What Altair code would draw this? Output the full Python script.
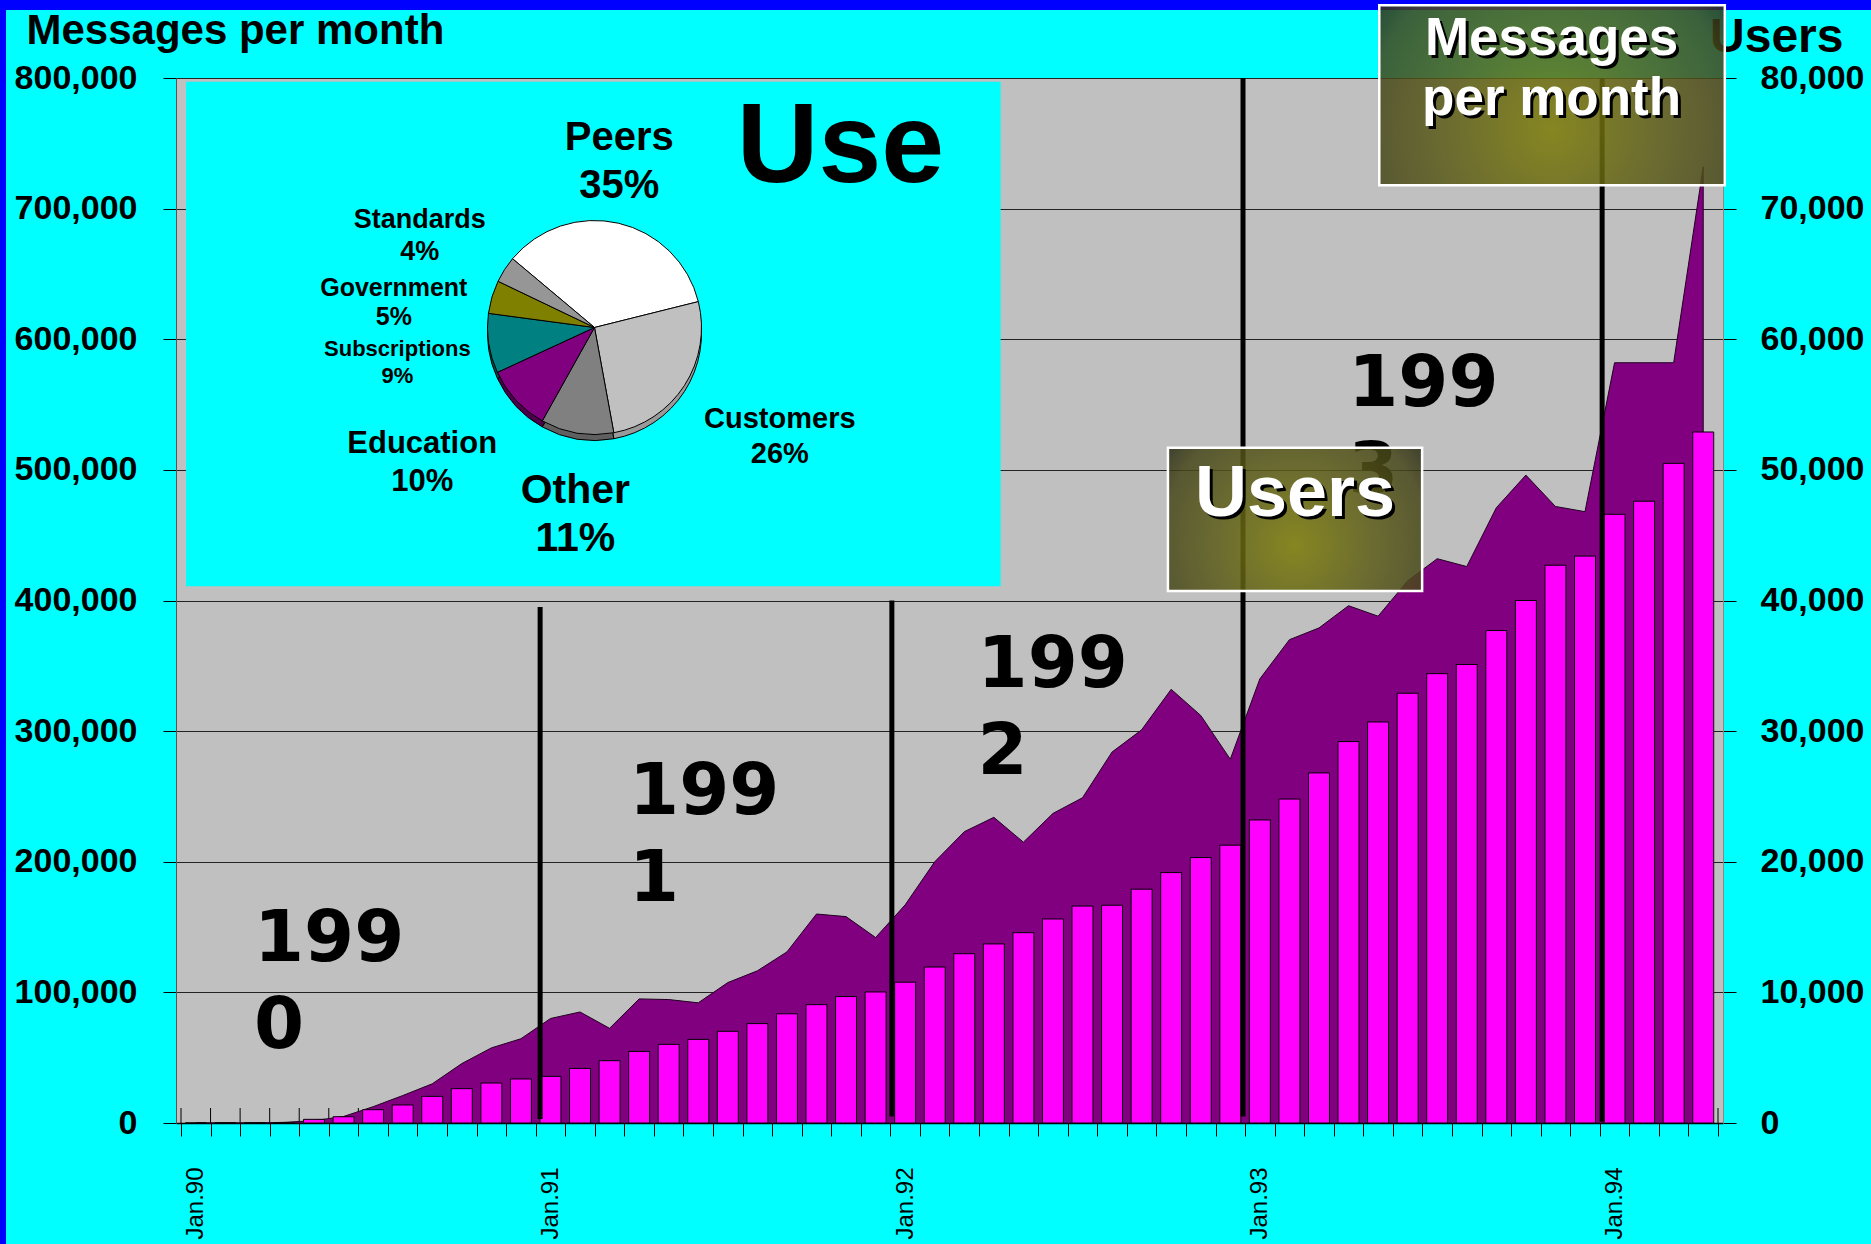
import math
import altair as alt
import pandas as pd

# ------------------------------------------------------------------ data
month_index = list(range(52))  # Jan.90 .. Apr.94
messages = [0, 0, 0, 500, 1800, 5000, 12500, 21000, 30000, 45500, 57500, 64500,
            80000, 85000, 72500, 95000, 94500, 92000, 107500, 116500, 131000, 160000, 158000, 142000,
            167000, 200000, 223000, 234000, 215000, 237000, 249000, 284000, 301000, 332000, 312000, 278500,
            340000, 370000, 379000, 396000, 388000, 415000, 432000, 426000, 471000, 496000, 472000, 468000,
            582000, 582000, 582000, 732000]
users = [0, 0, 0, 0, 280, 480, 1020, 1380, 2040, 2630, 3060, 3370,
         3570, 4180, 4770, 5480, 6020, 6400, 7020, 7610, 8360, 9060, 9680, 10030,
         10780, 11940, 12960, 13710, 14570, 15620, 16610, 16670, 17900, 19170, 20320, 21270,
         23200, 24800, 26800, 29200, 30700, 32900, 34400, 35100, 37700, 40000, 42700, 43400,
         46600, 47600, 50500, 52900]
x_tick_labels = ["Jan.90", "Jan.91", "Jan.92", "Jan.93", "Jan.94"]
x_tick_months = [0, 12, 24, 36, 48]
left_ticks = [0, 100000, 200000, 300000, 400000, 500000, 600000, 700000, 800000]
right_ticks = [0, 10000, 20000, 30000, 40000, 50000, 60000, 70000, 80000]

pie_categories = ["Peers", "Customers", "Other", "Education", "Subscriptions", "Government", "Standards"]
pie_shares = [35, 26, 11, 10, 9, 5, 4]
pie_colors = ["#FFFFFF", "#C0C0C0", "#808080", "#800080", "#008080", "#808000", "#969696"]
pie_side_colors = ["#D8D8D8", "#9A9A9A", "#606060", "#4A004A", "#004A4A", "#4A4A00", "#6A6A6A"]

year_labels = ["199\n0", "199\n1", "199\n2", "199\n3"]

# ------------------------------------------------------------------ layout (annotation placement)
divider_x = [11.65, 23.55, 35.43, 47.58]
divider_top = [395000, 400000, 800000, 800000]
divider_bottom = [3000, 5000, 5000, 1000]
year_label_x = [1.97, 14.66, 26.45, 38.99]
year_label_y = [124000, 236500, 334000, 549000]

pie_center = (13.49, 609000)
pie_radius = 107
pie_start = math.radians(-50)
pie_label_x = [14.33, 19.76, 12.84, 7.66, 6.82, 6.70, 7.58]
pie_label_y = [745200, 531800, 474600, 512900, 587500, 633300, 684900]
pie_label_fs = [40, 29, 41, 31, 22, 25, 27]
pie_label_lh = [48, 35, 48, 38, 27, 29, 32]

inset_box = (-0.33, 27.23, 797200, 410900)
msg_box = (40.04, 51.73, 855700, 717800)
usr_box = (32.89, 41.49, 516900, 407300)

W, H = 1547, 1045
FONT = "Liberation Sans, Arial, Helvetica, sans-serif"
DV = "DejaVu Sans, Verdana, sans-serif"

xs = alt.Scale(domain=[-0.5, 51.5], nice=False, zero=False)
ys_left = alt.Scale(domain=[0, 800000], nice=False, zero=True)
ys_right = alt.Scale(domain=[0, 80000], nice=False, zero=True)

tick_vals = [k - 0.5 for k in range(53)]
label_expr = " : ".join(
    f"datum.value == {m - 0.5} ? '{lab}'" for m, lab in zip(x_tick_months, x_tick_labels)
) + " : ''"

xaxis = alt.Axis(values=tick_vals, labelExpr=label_expr, labelAngle=-90, labelOffset=14.85,
                 labelFlush=False, labelOverlap=False, labelFont=FONT, labelFontSize=24,
                 labelColor="black", labelPadding=31, tickSize=13, tickColor="black",
                 domainColor="black", domainWidth=1.5, grid=False, title=None)

num_expr = "format(datum.value, ',.0f')"

left_axis = alt.Axis(values=left_ticks, labelExpr=num_expr, labelFont=FONT, labelFontWeight="bold",
                     labelFontSize=34, labelColor="black", labelPadding=26, tickSize=13,
                     tickColor="black", domainColor="#555555", grid=True, gridColor="#222222",
                     gridWidth=1, labelFlush=False, labelOverlap=False,
                     title="Messages per month", titleAngle=0, titleX=-150,
                     titleY=-35, titleAlign="left", titleBaseline="alphabetic", titleFont=FONT,
                     titleFontSize=42, titleFontWeight="bold", titleColor="black")

right_axis = alt.Axis(orient="right", values=right_ticks, labelExpr=num_expr, labelFont=FONT,
                      labelFontWeight="bold", labelFontSize=34, labelColor="black",
                      labelPadding=24, tickSize=13, tickColor="black", domainColor="#888888",
                      grid=False, labelFlush=False, labelOverlap=False,
                      title="Users", titleAngle=0, titleX=120, titleY=-27,
                      titleAlign="right", titleBaseline="alphabetic", titleFont=FONT,
                      titleFontSize=48, titleFontWeight="bold", titleColor="black")

df = pd.DataFrame({"idx": month_index, "messages": messages, "users": users})

# inner (crossing) category ticks, drawn under the area
inner_ticks = alt.Chart(pd.DataFrame({"b": tick_vals})).mark_rule(
    color="black", strokeWidth=1).encode(
    x=alt.X("b:Q", scale=xs, axis=xaxis), y=alt.value(H - 15), y2=alt.value(H))

area = alt.Chart(df).mark_area(fill="#800080", stroke="#200020", strokeWidth=1).encode(
    x=alt.X("idx:Q", scale=xs, axis=xaxis),
    y=alt.Y("messages:Q", scale=ys_left, axis=left_axis),
)

bars = alt.Chart(df).mark_bar(size=21, fill="#FF00FF", stroke="black", strokeWidth=1).encode(
    x=alt.X("idx:Q", scale=xs, axis=xaxis),
    y=alt.Y("users:Q", scale=ys_right, axis=right_axis),
)


def XD(v):
    return alt.XDatum(v, type="quantitative", scale=xs, axis=xaxis)


def YD(v):
    return alt.YDatum(v, type="quantitative", scale=ys_left, axis=None)


def text_layer(label, x, y, fs, font=FONT, align="center", color="black", lh=None,
               dx=0, dy_extra=0):
    mk = dict(font=font, fontSize=fs, fontWeight="bold", align=align, baseline="top",
              dy=-round(0.79 * fs) + dy_extra, dx=dx, color=color, lineBreak="\n")
    if lh:
        mk["lineHeight"] = lh
    return alt.Chart(pd.DataFrame({"t": [label]})).mark_text(**mk).encode(
        x=XD(x), y=YD(y), text="t:N")


one = pd.DataFrame({"k": [0]})
border_top = alt.Chart(one).mark_rect(color="#0000FF").encode(
    x=alt.value(-176), x2=alt.value(1695), y=alt.value(-78), y2=alt.value(-68))
border_left = alt.Chart(one).mark_rect(color="#0000FF").encode(
    x=alt.value(-176), x2=alt.value(-170), y=alt.value(-78), y2=alt.value(1166))

div_df = pd.DataFrame({"x": divider_x, "top": divider_top, "bottom": divider_bottom})
dividers = alt.Chart(div_df).mark_rule(color="black", strokeWidth=5).encode(
    x=alt.X("x:Q", scale=xs, axis=xaxis),
    y=alt.Y("top:Q", scale=ys_left, axis=None),
    y2="bottom:Q",
)

yl_df = pd.DataFrame({"t": year_labels, "x": year_label_x, "y": year_label_y})
year_text = alt.Chart(yl_df).mark_text(font=DV, fontWeight="bold", fontSize=72, align="left",
                                       baseline="top", dy=-57, lineBreak="\n", lineHeight=87,
                                       color="black").encode(
    x=alt.X("x:Q", scale=xs, axis=xaxis),
    y=alt.Y("y:Q", scale=ys_left, axis=None),
    text="t:N",
)

inset = alt.Chart(one).mark_rect(fill="#00FFFF", stroke=None).encode(
    x=XD(inset_box[0]), x2=alt.X2Datum(inset_box[1]),
    y=YD(inset_box[2]), y2=alt.Y2Datum(inset_box[3]))

pie_df = pd.DataFrame({"cat": pie_categories, "share": pie_shares, "ord": list(range(7)),
                       "col": pie_colors, "side": pie_side_colors})
theta = alt.Theta("share:Q", stack=True,
                  scale=alt.Scale(range=[pie_start, pie_start + 2 * math.pi]))
pie_side = alt.Chart(pie_df).mark_arc(outerRadius=pie_radius, yOffset=6, stroke="black",
                                      strokeWidth=1).encode(
    theta=theta, order=alt.Order("ord:Q"), color=alt.Color("side:N", scale=None),
    x=XD(pie_center[0]), y=YD(pie_center[1]))
pie = alt.Chart(pie_df).mark_arc(outerRadius=pie_radius, stroke="black", strokeWidth=1).encode(
    theta=theta, order=alt.Order("ord:Q"), color=alt.Color("col:N", scale=None),
    x=XD(pie_center[0]), y=YD(pie_center[1]))

pie_labels = [text_layer(f"{c}\n{s}%", x, y, fs, lh=lh)
              for c, s, x, y, fs, lh in zip(pie_categories, pie_shares, pie_label_x,
                                             pie_label_y, pie_label_fs, pie_label_lh)]

use_title = text_layer("Use", 21.81, 720500, 113)

box_fill = {"gradient": "radial", "x1": 0.5, "y1": 0.6, "x2": 0.5, "y2": 0.6, "r1": 0, "r2": 0.62,
            "stops": [{"offset": 0, "color": "#7C7C06"}, {"offset": 0.5, "color": "#5C5C18"},
                      {"offset": 0.85, "color": "#46461A"}, {"offset": 1, "color": "#2C2C16"}]}


def olive_box(b):
    return alt.Chart(one).mark_rect(fill=box_fill, fillOpacity=0.85, stroke="white",
                                    strokeWidth=2.5).encode(
        x=XD(b[0]), x2=alt.X2Datum(b[1]), y=YD(b[2]), y2=alt.Y2Datum(b[3]))


msg_box_layers = [
    olive_box(msg_box),
    text_layer("Messages\nper month", 45.87, 817300, 53, color="black", lh=60, dx=3, dy_extra=3),
    text_layer("Messages\nper month", 45.87, 817300, 53, color="white", lh=60),
]
usr_box_layers = [
    olive_box(usr_box),
    text_layer("Users", 37.19, 464800, 72, color="black", dx=3, dy_extra=3),
    text_layer("Users", 37.19, 464800, 72, color="white"),
]

annotations = alt.layer(
    border_top, border_left, dividers, year_text, inset, pie_side, pie, *pie_labels, use_title,
    *usr_box_layers, *msg_box_layers,
)

chart = alt.layer(alt.layer(inner_ticks, area), bars, annotations).resolve_scale(
    y="independent").properties(
    width=W, height=H,
    autosize=alt.AutoSizeParams(type="none"),
    padding={"left": 176, "top": 78, "right": 148, "bottom": 121},
).configure(background="#00FFFF").configure_view(fill="#C0C0C0", stroke=None)

chart.save("out.html", embed_options={"renderer": "svg", "actions": False})
